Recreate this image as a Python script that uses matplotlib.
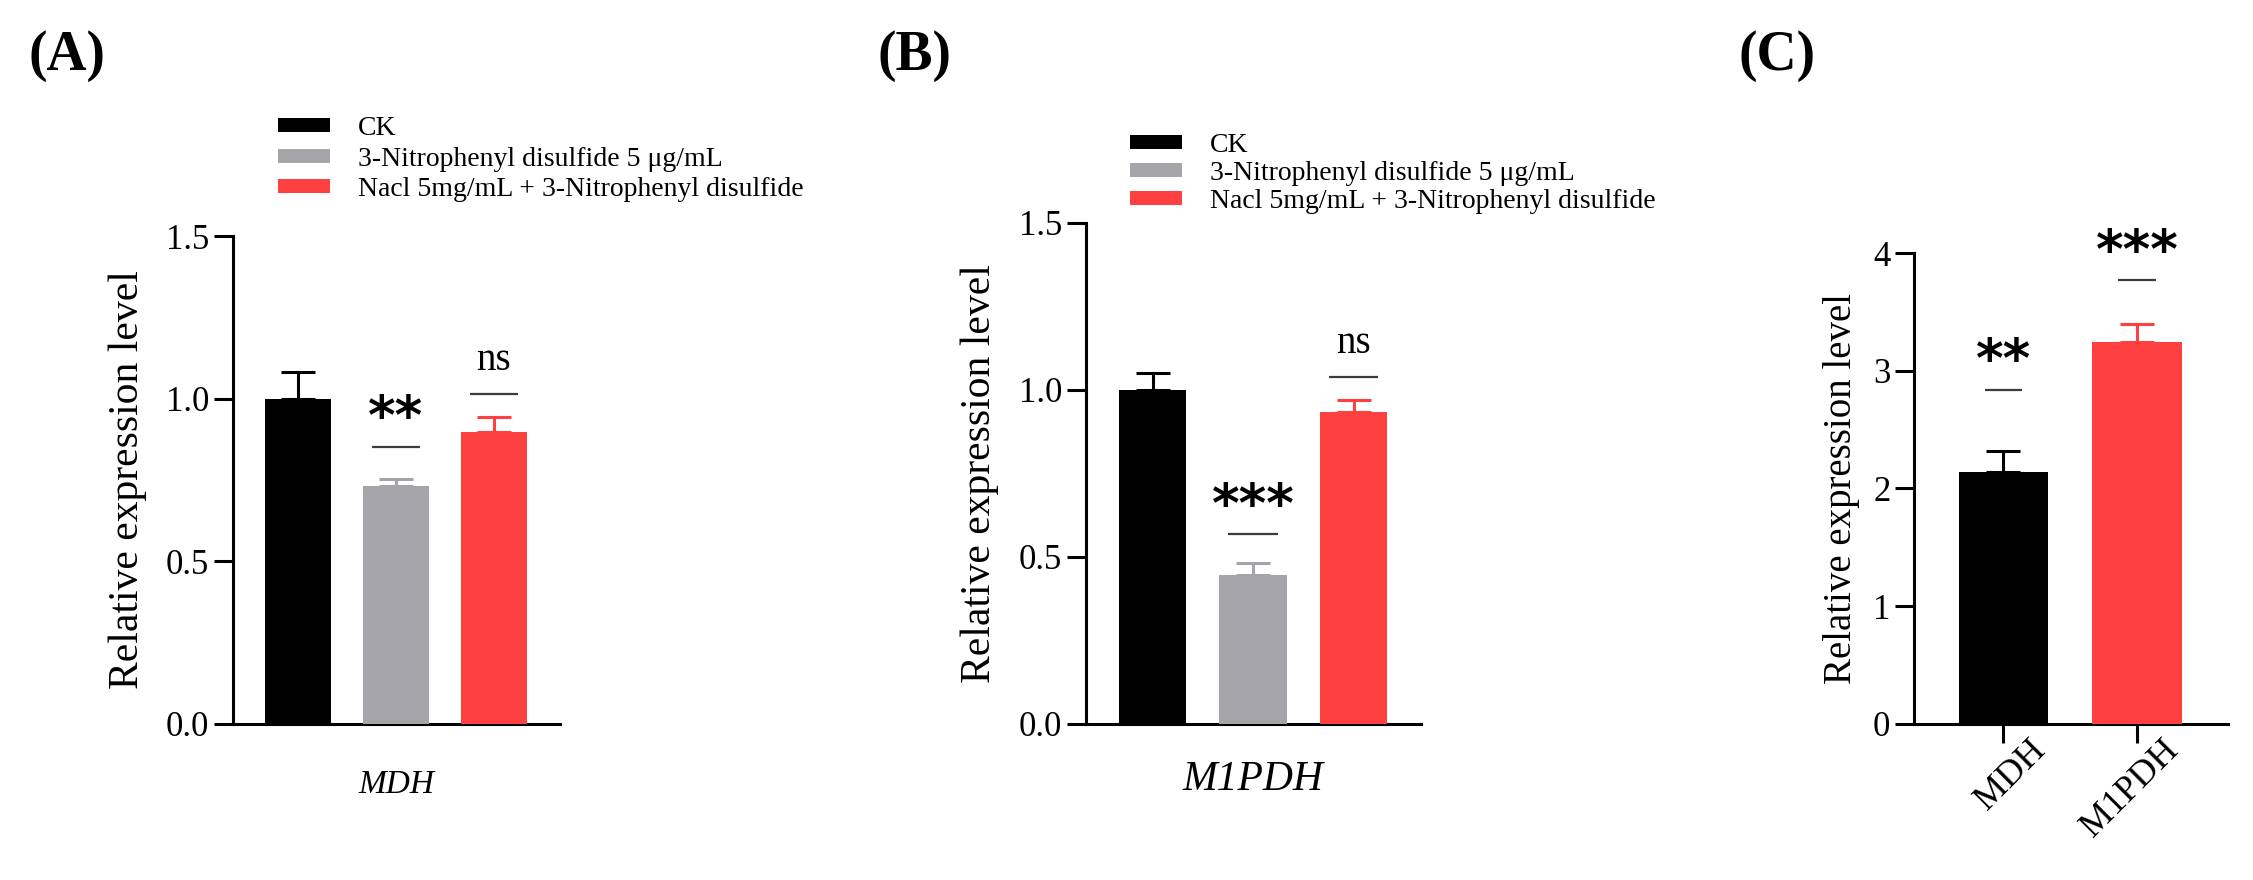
import matplotlib
matplotlib.use("Agg")
import matplotlib.pyplot as plt
from matplotlib.patches import Patch
from matplotlib.transforms import ScaledTranslation

plt.rcParams.update({
    "font.family": ["Liberation Serif", "DejaVu Serif"],
    "axes.linewidth": 2.2,
    "xtick.major.width": 2.2,
    "ytick.major.width": 2.2,
    "xtick.major.size": 14,
    "ytick.major.size": 14,
})

# treatments (panels A and B)
groups = ["CK", "3-Nitrophenyl disulfide 5 \u03bcg/mL",
          "Nacl 5mg/mL + 3-Nitrophenyl disulfide"]
group_colors = ["#000000", "#A4A4A9", "#FF4040"]

mdh_mean = [1.00, 0.732, 0.898]
mdh_err = [0.082, 0.022, 0.047]
mdh_sig = ["", "**", "ns"]
mdh_sig_y = [0, 0.852, 1.015]

m1pdh_mean = [1.00, 0.447, 0.934]
m1pdh_err = [0.050, 0.036, 0.036]
m1pdh_sig = ["", "***", "ns"]
m1pdh_sig_y = [0, 0.568, 1.04]

# panel C
genes = ["MDH", "M1PDH"]
fold_mean = [2.14, 3.24]
fold_err = [0.18, 0.16]
fold_sig = ["**", "***"]
fold_sig_y = [2.84, 3.77]
fold_colors = ["#000000", "#FF4040"]

SIG_LINE = "#3C3C3C"


def style(ax, ylim, yticks, fmt):
    for s in ("top", "right"):
        ax.spines[s].set_visible(False)
    ax.set_ylim(*ylim)
    ax.set_yticks(yticks)
    ax.set_yticklabels([fmt.format(t) for t in yticks], fontsize=25)
    ax.tick_params(axis="y", direction="out", pad=3)


def bars(ax, means, errs, colors):
    x = list(range(len(means)))
    ax.bar(x, means, width=0.67, color=colors, zorder=3)
    for xi, m, e, c in zip(x, means, errs, colors):
        ax.errorbar(xi, m, yerr=[[0], [e]], fmt="none", ecolor=c,
                    elinewidth=2.2, capsize=12, capthick=2.2, zorder=2)
    return x


def sig(ax, x, y, label, half):
    if not label:
        return
    ax.plot([x - half, x + half], [y, y], color=SIG_LINE, lw=1.6,
            solid_capstyle="butt", zorder=4)
    if label == "ns":
        ax.annotate(label, (x, y), xytext=(0, 17), textcoords="offset points",
                    ha="center", va="baseline", fontsize=28)
    else:
        ax.annotate(label, (x, y), xytext=(0, 9), textcoords="offset points",
                    ha="center", va="baseline", fontsize=38,
                    fontweight="bold", family="DejaVu Sans")


def legend(ax, anchor, spacing):
    handles = [Patch(facecolor=c, edgecolor="none") for c in group_colors]
    ax.legend(handles, groups, loc="upper left", bbox_to_anchor=anchor,
              bbox_transform=ax.figure.transFigure, frameon=False,
              fontsize=20, handlelength=1.87, handleheight=0.4,
              handletextpad=1.0, labelspacing=spacing, borderpad=0,
              borderaxespad=0)


fig = plt.figure(figsize=(22.53, 8.8), dpi=100)

# (A) MDH
axA = fig.add_axes([0.1034, 0.1773, 0.1451, 0.5545])
x = bars(axA, mdh_mean, mdh_err, group_colors)
for xi, lab, y in zip(x, mdh_sig, mdh_sig_y):
    sig(axA, xi, y, lab, 0.245)
style(axA, (0, 1.5), [0, 0.5, 1.0, 1.5], "{:.1f}")
axA.set_xlim(-0.663, 2.673)
axA.set_xticks([1])
axA.set_xticklabels(["MDH"], fontsize=24, style="italic")
axA.tick_params(axis="x", length=0, pad=33)
axA.set_ylabel("Relative expression level", fontsize=30)
axA.yaxis.set_label_coords(-0.263, 0.5)
legend(axA, (0.1234, 0.868), 0.2)

# (B) M1PDH
axB = fig.add_axes([0.4820, 0.1773, 0.1487, 0.5693])
x = bars(axB, m1pdh_mean, m1pdh_err, group_colors)
for xi, lab, y in zip(x, m1pdh_sig, m1pdh_sig_y):
    sig(axB, xi, y, lab, 0.245)
style(axB, (0, 1.5), [0, 0.5, 1.0, 1.5], "{:.1f}")
axB.set_xlim(-0.662, 2.67)
axB.set_xticks([1])
axB.set_xticklabels(["M1PDH"], fontsize=30, style="italic")
axB.tick_params(axis="x", length=0, pad=26)
axB.set_ylabel("Relative expression level", fontsize=30)
axB.yaxis.set_label_coords(-0.26, 0.5)
legend(axB, (0.5016, 0.849), 0.11)

# (C) fold change
axC = fig.add_axes([0.8495, 0.1773, 0.1394, 0.5352])
x = bars(axC, fold_mean, fold_err, fold_colors)
for xi, lab, y in zip(x, fold_sig, fold_sig_y):
    sig(axC, xi, y, lab, 0.14)
style(axC, (0, 4), [0, 1, 2, 3, 4], "{:d}")
axC.set_xlim(-0.67, 1.68)
axC.set_xticks(x)
axC.set_xticklabels(genes, fontsize=26, rotation=45, ha="right",
                    rotation_mode="anchor")
axC.tick_params(axis="x", direction="out", length=14, pad=4)
shift = ScaledTranslation(0.25, 0.15, fig.dpi_scale_trans)
for lab in axC.get_xticklabels():
    lab.set_transform(lab.get_transform() + shift)
axC.set_ylabel("Relative expression level", fontsize=28)
axC.yaxis.set_label_coords(-0.172, 0.5)

for lab, fx in (("(A)", 67), ("(B)", 914), ("(C)", 1777)):
    fig.text(fx / 2253, 1 - 56 / 880, lab, fontsize=40, fontweight="bold",
             ha="center", va="center")

fig.savefig("out.png", dpi=100)
